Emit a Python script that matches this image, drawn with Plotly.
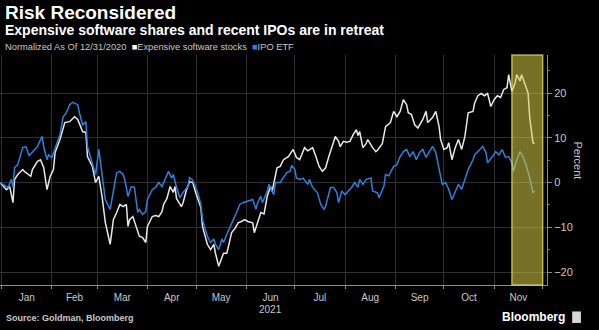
import plotly.graph_objects as go

# Expensive software stocks, % change normalized to 12/31/2020
soft_dates = [
    "2020-12-31", "2021-01-04", "2021-01-06", "2021-01-08", "2021-01-09", "2021-01-11", "2021-01-14",
    "2021-01-15", "2021-01-19", "2021-01-20", "2021-01-23", "2021-01-25", "2021-01-27", "2021-01-29",
    "2021-01-31", "2021-02-02", "2021-02-03", "2021-02-06", "2021-02-09", "2021-02-12", "2021-02-15",
    "2021-02-17", "2021-02-20", "2021-02-22", "2021-02-23", "2021-02-26", "2021-02-28", "2021-03-02",
    "2021-03-04", "2021-03-06", "2021-03-09", "2021-03-11", "2021-03-13", "2021-03-15", "2021-03-17",
    "2021-03-19", "2021-03-20", "2021-03-21", "2021-03-23", "2021-03-26", "2021-03-27", "2021-03-29",
    "2021-03-31", "2021-04-01", "2021-04-04", "2021-04-06", "2021-04-08", "2021-04-10", "2021-04-11",
    "2021-04-13", "2021-04-15", "2021-04-17", "2021-04-18", "2021-04-19", "2021-04-22", "2021-04-23",
    "2021-04-25", "2021-04-27", "2021-04-29", "2021-05-01", "2021-05-04", "2021-05-05", "2021-05-08",
    "2021-05-10", "2021-05-12", "2021-05-13", "2021-05-15", "2021-05-18", "2021-05-20", "2021-05-21",
    "2021-05-23", "2021-05-25", "2021-05-27", "2021-05-29", "2021-05-31", "2021-06-02", "2021-06-05",
    "2021-06-06", "2021-06-08", "2021-06-10", "2021-06-12", "2021-06-14", "2021-06-16", "2021-06-17",
    "2021-06-20", "2021-06-22", "2021-06-24", "2021-06-27", "2021-06-30", "2021-07-02", "2021-07-04",
    "2021-07-07", "2021-07-09", "2021-07-12", "2021-07-14", "2021-07-16", "2021-07-18", "2021-07-20",
    "2021-07-22", "2021-07-24", "2021-07-26", "2021-07-28", "2021-07-29", "2021-07-31", "2021-08-02",
    "2021-08-04", "2021-08-06", "2021-08-08", "2021-08-09", "2021-08-10", "2021-08-12", "2021-08-14",
    "2021-08-15", "2021-08-18", "2021-08-20", "2021-08-21", "2021-08-24", "2021-08-26", "2021-08-28",
    "2021-08-29", "2021-08-31", "2021-09-02", "2021-09-04", "2021-09-06", "2021-09-08", "2021-09-09",
    "2021-09-11", "2021-09-13", "2021-09-15", "2021-09-18", "2021-09-20", "2021-09-21", "2021-09-24",
    "2021-09-26", "2021-09-28", "2021-09-29", "2021-10-01", "2021-10-03", "2021-10-04", "2021-10-06",
    "2021-10-08", "2021-10-10", "2021-10-12", "2021-10-14", "2021-10-16", "2021-10-19", "2021-10-20",
    "2021-10-22", "2021-10-24", "2021-10-26", "2021-10-28", "2021-10-30", "2021-11-01", "2021-11-03",
    "2021-11-05", "2021-11-07", "2021-11-09", "2021-11-10", "2021-11-12", "2021-11-14", "2021-11-15",
    "2021-11-17", "2021-11-18", "2021-11-20", "2021-11-22", "2021-11-23", "2021-11-25", "2021-11-26",
]
soft_values = [
    0, -1.6, -0.9, -4.5, 0.7, 1.8, 2.9,
    2.5, 1.4, 2.9, 4.7, 5.1, 3.3, -1.6,
    1.4, 2.9, 6.7, 9.6, 13.4, 13.6, 14.7,
    14.1, 11.4, 11.2, 5.8, 3.6, 0, 1.4,
    -3.1, -8.9, -13.8, -8.3, -6.7, -4.9, -5.4,
    -4.9, -9.8, -8.3, -7.6, -11.2, -12, -12.3,
    -13.4, -9.8, -7.6, -7.4, -7.6, -6.5, -4.9,
    -3.6, -0.9, -2.2, -0.9, -3.6, -5.4, -4.5,
    -1.8, 0.2, 0, -2.5, -5.6, -9.8, -13.8,
    -15, -13.8, -15.8, -18.7, -15.8, -15.8, -14.3,
    -11.2, -10.3, -9, -8.7, -8.3, -8.7, -9,
    -11.2, -8.7, -6.7, -7, -3, -0.9, -2,
    3.3, 3.6, 5.1, 5.8, 7.4, 5.6, 5.1,
    7.8, 7.1, 7.8, 5.8, 3.6, 2.5, 3.3,
    5.8, 8, 10.3, 9.2, 8, 9.2, 9,
    9.2, 10.7, 11.8, 10.5, 11.4, 7.8, 8.7,
    9.6, 7.8, 6.9, 7.2, 8.7, 12.5, 13.2,
    13.4, 15.9, 14.7, 15.9, 18.5, 17.4, 15.6,
    15.2, 12.9, 12.2, 14.1, 15.9, 13.4, 14.5,
    15.9, 12.6, 9.6, 7.4, 7.8, 8.9, 5.1,
    7.8, 9.6, 7.4, 10.3, 15.6, 15.9, 17.8,
    19.4, 19.9, 19.4, 19.9, 17, 18.5, 19.4,
    19, 20.8, 21.2, 24.1, 20.3, 22.3, 24.1,
    22.7, 24.1, 21.8, 20, 14.5, 8.9, 8.7,
]

# IPO ETF, % change normalized to 12/31/2020
ipo_dates = [
    "2020-12-31", "2021-01-05", "2021-01-07", "2021-01-08", "2021-01-09", "2021-01-11", "2021-01-14",
    "2021-01-16", "2021-01-18", "2021-01-20", "2021-01-23", "2021-01-26", "2021-01-27", "2021-01-29",
    "2021-01-30", "2021-02-01", "2021-02-03", "2021-02-06", "2021-02-08", "2021-02-10", "2021-02-12",
    "2021-02-14", "2021-02-17", "2021-02-18", "2021-02-20", "2021-02-22", "2021-02-23", "2021-02-26",
    "2021-02-28", "2021-03-02", "2021-03-04", "2021-03-06", "2021-03-09", "2021-03-11", "2021-03-13",
    "2021-03-15", "2021-03-17", "2021-03-18", "2021-03-20", "2021-03-22", "2021-03-24", "2021-03-26",
    "2021-03-27", "2021-03-29", "2021-03-31", "2021-04-01", "2021-04-04", "2021-04-06", "2021-04-08",
    "2021-04-10", "2021-04-12", "2021-04-14", "2021-04-16", "2021-04-17", "2021-04-19", "2021-04-21",
    "2021-04-23", "2021-04-26", "2021-04-27", "2021-04-29", "2021-05-02", "2021-05-04", "2021-05-05",
    "2021-05-08", "2021-05-10", "2021-05-12", "2021-05-13", "2021-05-15", "2021-05-17", "2021-05-18",
    "2021-05-20", "2021-05-22", "2021-05-24", "2021-05-26", "2021-05-28", "2021-05-30", "2021-06-02",
    "2021-06-05", "2021-06-07", "2021-06-08", "2021-06-10", "2021-06-11", "2021-06-14", "2021-06-15",
    "2021-06-18", "2021-06-19", "2021-06-22", "2021-06-24", "2021-06-26", "2021-06-28", "2021-06-29",
    "2021-07-01", "2021-07-02", "2021-07-04", "2021-07-06", "2021-07-09", "2021-07-10", "2021-07-12",
    "2021-07-15", "2021-07-17", "2021-07-19", "2021-07-20", "2021-07-22", "2021-07-23", "2021-07-25",
    "2021-07-27", "2021-07-28", "2021-07-30", "2021-08-01", "2021-08-03", "2021-08-05", "2021-08-07",
    "2021-08-09", "2021-08-10", "2021-08-12", "2021-08-14", "2021-08-17", "2021-08-18", "2021-08-21",
    "2021-08-22", "2021-08-25", "2021-08-26", "2021-08-28", "2021-08-31", "2021-09-02", "2021-09-04",
    "2021-09-06", "2021-09-08", "2021-09-10", "2021-09-12", "2021-09-14", "2021-09-16", "2021-09-18",
    "2021-09-20", "2021-09-22", "2021-09-24", "2021-09-26", "2021-09-28", "2021-09-30", "2021-10-02",
    "2021-10-04", "2021-10-06", "2021-10-08", "2021-10-10", "2021-10-12", "2021-10-14", "2021-10-16",
    "2021-10-19", "2021-10-20", "2021-10-22", "2021-10-25", "2021-10-27", "2021-10-28", "2021-10-31",
    "2021-11-02", "2021-11-04", "2021-11-06", "2021-11-08", "2021-11-10", "2021-11-12", "2021-11-13",
    "2021-11-15", "2021-11-17", "2021-11-19", "2021-11-21", "2021-11-23", "2021-11-25", "2021-11-26",
]
ipo_values = [
    0, -1.1, 0.7, -1.1, 3.3, 4, 7.8,
    8, 6, 6.9, 8, 10.3, 8, 5.1,
    6.2, 5.6, 7.8, 10.7, 14.7, 15.6, 17.4,
    17.9, 17.4, 15.6, 12.9, 13.6, 8, 4.5,
    1.8, 7.4, 2.2, -3.8, -6, -2, 2.2,
    2.5, 1.8, 0.7, -3.1, -0.9, -1.1, -6.7,
    -6, -7.1, -6.5, -3.8, -1.6, -1.1, 0,
    -0.9, 0.7, 2.5, 1, 1.8, -1.1, -3.4,
    -2.2, -0.9, 1.1, 0.5, -2.2, -4.9, -8.3,
    -12, -13.4, -12.6, -13.8, -15, -12.6, -13.4,
    -11.6, -9.8, -8.3, -6.7, -4.9, -4.5, -4.2,
    -3.8, -6, -4.5, -3.1, -4.5, -1.9, -0.4,
    -2.7, 0, 0, 1, 2.2, 2.5, 3.8,
    2.9, 1, 0.7, 1, -0.4, 0.7, -1.1,
    -2.3, -4.9, -6, -5.3, -2.3, -1.1, -1.1,
    -2.3, -4.5, -1.9, -2.7, -1.9, -1.1, 0,
    -1.1, 0.7, -0.4, 0.7, 1, -1.9, -2.3,
    -3.4, -0.8, 1.8, 1.5, 3.6, 4, 5.8,
    6.9, 7.4, 5.8, 6.9, 5.1, 6.7, 7.4,
    5.6, 6.9, 8.1, 6.7, 2.9, -0.4, 0,
    -1.5, -3.8, -2, -0.4, -1.5, 0.7, 2.9,
    5.1, 6.2, 6.9, 8.1, 6.7, 4.4, 5.8,
    6.9, 6.2, 7.4, 5.6, 5.8, 4.4, 2.5,
    5.1, 6.9, 5.6, 3.6, 1, -2.3, -1.9,
]

# Highlighted retreat window and axis settings
highlight_start = "2021-11-12"
highlight_end = "2021-12-01"
x_range = ["2020-12-31", "2021-12-03 16:00"]
y_range = [-22.9, 28.5]
y_ticks = [-20, -10, 0, 10, 20]

FONT = "Liberation Sans"
WHITE = "#e8e8e8"
BLUE = "#2f80db"
GRID = "#303030"
AXIS = "#8a8a8a"
LABEL = "#c8c8c8"

fig = go.Figure()
fig.add_trace(go.Scatter(x=soft_dates, y=soft_values, mode="lines",
                         line=dict(color=WHITE, width=1.5), name="Expensive software stocks"))
fig.add_trace(go.Scatter(x=ipo_dates, y=ipo_values, mode="lines",
                         line=dict(color=BLUE, width=1.5), name="IPO ETF"))

fig.add_shape(type="rect", xref="x", yref="paper", x0=highlight_start, x1=highlight_end,
              y0=0, y1=1, layer="above",
              fillcolor="rgba(215,205,70,0.55)",
              line=dict(color="rgba(235,225,100,0.7)", width=1.5))

fig.update_layout(
    width=599, height=330,
    margin=dict(l=0, r=52, t=55, b=45),
    paper_bgcolor="black", plot_bgcolor="black",
    showlegend=False,
    font=dict(family=FONT, color=LABEL),
    xaxis=dict(
        type="date", range=x_range, dtick="M1", tick0="2021-01-01",
        ticklabelmode="period", tickformat="%b",
        showgrid=True, gridcolor=GRID, gridwidth=1,
        ticks="outside", ticklen=3, tickcolor=AXIS,
        showline=True, linecolor=AXIS, linewidth=1,
        tickfont=dict(size=10, color=LABEL, family=FONT),
        fixedrange=True,
    ),
    yaxis=dict(
        side="right", range=y_range, tickvals=y_ticks,
        showgrid=True, gridcolor=GRID, gridwidth=1, zeroline=False,
        ticks="outside", ticklen=4, tickcolor=AXIS,
        showline=True, linecolor=AXIS, linewidth=1,
        tickfont=dict(size=11, color=LABEL, family=FONT),
        minor=dict(dtick=5, tick0=0, ticks="outside", ticklen=2, tickcolor="#666666", showgrid=False),
        fixedrange=True,
    ),
)

annotations = [
    dict(text="<b>Risk Reconsidered</b>", x=0.006, y=1.183, xref="paper", yref="paper",
         xanchor="left", yanchor="middle", showarrow=False,
         font=dict(size=19, color="white", family=FONT)),
    dict(text="<b>Expensive software shares and recent IPOs are in retreat</b>", x=0.006, y=1.109,
         xref="paper", yref="paper", xanchor="left", yanchor="middle", showarrow=False,
         font=dict(size=14, color="white", family=FONT)),
    dict(text="Normalized As Of 12/31/2020  "
              "<span style='color:white'>■</span>Expensive software stocks  "
              f"<span style='color:{BLUE}'>■</span>IPO ETF",
         x=0.006, y=1.035, xref="paper", yref="paper", xanchor="left", yanchor="middle",
         showarrow=False, font=dict(size=9.3, color=LABEL, family=FONT)),
    dict(text="2021", x="2021-06-16", y=-0.105, xref="x", yref="paper",
         xanchor="center", yanchor="middle", showarrow=False,
         font=dict(size=10, color=LABEL, family=FONT)),
    dict(text="Percent", x=1.056, y=0.543, xref="paper", yref="paper", textangle=90,
         xanchor="center", yanchor="middle", showarrow=False,
         font=dict(size=11, color=LABEL, family=FONT)),
    dict(text="<b>Source: Goldman, Bloomberg</b>", x=0.008, y=-0.143, xref="paper", yref="paper",
         xanchor="left", yanchor="middle", showarrow=False,
         font=dict(size=9, color=LABEL, family=FONT)),
    dict(text="<b>Bloomberg</b>", x=1.037, y=-0.139, xref="paper", yref="paper",
         xanchor="right", yanchor="middle", showarrow=False,
         font=dict(size=12, color="white", family=FONT)),
]
fig.update_layout(annotations=annotations)

# small logo tile next to the wordmark
fig.add_shape(type="rect", xref="paper", yref="paper", x0=1.046, x1=1.062, y0=-0.165, y1=-0.115,
              fillcolor="#d8d8d8", line=dict(width=0))

fig.write_html("out.html")
